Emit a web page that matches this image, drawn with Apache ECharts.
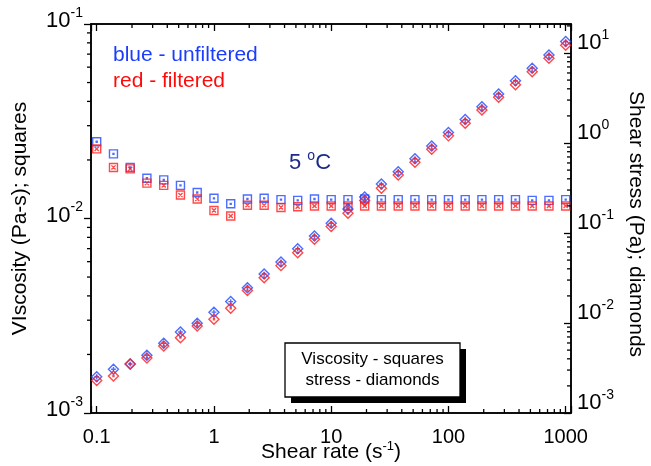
<!DOCTYPE html>
<html>
<head>
<meta charset="utf-8">
<script src="https://cdn.jsdelivr.net/npm/echarts@6/dist/echarts.min.js"></script>
<style>
html,body{margin:0;padding:0;background:#fff}
#chart{width:651px;height:466px}
</style>
</head>
<body>
<div id="chart"></div>
<script>
// shear rate, 7 points per decade
var shearRate = [0.1, 0.139, 0.193, 0.268, 0.373, 0.518, 0.72, 1, 1.39, 1.93, 2.68, 3.73, 5.18, 7.2,
    10, 13.9, 19.3, 26.8, 37.3, 51.8, 72, 100, 139, 193, 268, 373, 518, 720, 1000];
// viscosity (Pa-s) - squares, left axis
var viscBlue = [0.0248, 0.0215, 0.0183, 0.0161, 0.0158, 0.0148, 0.0136, 0.0127, 0.0119, 0.0126, 0.0127, 0.0125,
    0.0124, 0.0126, 0.0125, 0.0125, 0.0126, 0.0125, 0.0125, 0.0125, 0.0125, 0.0125, 0.0125, 0.0125, 0.0125,
    0.0125, 0.0124, 0.0124, 0.0125];
var viscRed = [0.0228, 0.0183, 0.0180, 0.0152, 0.0148, 0.0132, 0.0126, 0.0110, 0.0103, 0.0117, 0.0117, 0.0114,
    0.0115, 0.0116, 0.0116, 0.0116, 0.0116, 0.0116, 0.0116, 0.0116, 0.0116, 0.0116, 0.0116, 0.0116, 0.0116,
    0.0116, 0.0116, 0.0116, 0.0116];
// shear stress (Pa) - diamonds, right axis
var stressBlue = [0.00253, 0.00306, 0.0035, 0.00438, 0.00594, 0.00794, 0.00993, 0.0132, 0.0173, 0.0247, 0.035,
    0.0476, 0.067, 0.0927, 0.128, 0.185, 0.251, 0.35, 0.48, 0.667, 0.927, 1.31, 1.82, 2.53, 3.5, 4.92, 6.76, 9.5, 13.4];
var stressRed = [0.00229, 0.00258, 0.0035, 0.00408, 0.00555, 0.00687, 0.00927, 0.011, 0.0146, 0.0229, 0.0318,
    0.0434, 0.0604, 0.0851, 0.118, 0.166, 0.23, 0.314, 0.44, 0.612, 0.853, 1.2, 1.66, 2.33, 3.22, 4.44, 6.2, 8.73, 12.2];

var xTickLabels = ['0.1', '1', '10', '100', '1000'];
var xRange = [0.0894, 1110];
var yLeftRange = [0.001, 0.1];
var yRightRange = [0.001, 21];

var FONT = '"Liberation Sans", Arial, sans-serif';
var BLUE = '#2048ff';
var RED = '#ff1c1c';

function pairs(xs, ys) {
    return xs.map(function (x, i) { return [x, ys[i]]; });
}
function isPow(v) {
    var e = Math.log10(v);
    return Math.abs(e - Math.round(e)) < 1e-6;
}
function powLabel(v) {
    if (!isPow(v)) return '';
    return '{b|10}{s|' + Math.round(Math.log10(v)) + '}';
}
// minor tick values 2..9 x 10^e inside a range
function minorTicks(range) {
    var out = [];
    for (var e = -4; e <= 3; e++) {
        for (var m = 2; m <= 9; m++) {
            var v = m * Math.pow(10, e);
            if (v > range[0] * 1.01 && v < range[1] * 0.99) out.push(v);
        }
    }
    return out;
}

var supRich = {
    b: {fontSize: 22, fontFamily: FONT, color: '#000', lineHeight: 30},
    s: {fontSize: 14, fontFamily: FONT, color: '#000', lineHeight: 14, verticalAlign: 'top'}
};
var nameRich = {
    n: {fontSize: 21, fontFamily: FONT, color: '#000', lineHeight: 24},
    s: {fontSize: 13, fontFamily: FONT, color: '#000', lineHeight: 13, verticalAlign: 'top'}
};

var sqDot = 'path://M0,0L10,0L10,10L0,10Z M4.4,4.4L5.6,4.4L5.6,5.6L4.4,5.6Z';
var sqX = 'path://M0,0L10,0L10,10L0,10Z M2.4,2.4L7.6,7.6 M7.6,2.4L2.4,7.6';
var diaPlus = 'path://M5,0L10,5L5,10L0,5Z M5,2.6L5,7.4 M2.6,5L7.4,5';
var diaDot = 'path://M5,0L10,5L5,10L0,5Z M4.5,4.5L5.5,4.5L5.5,5.5L4.5,5.5Z';

function markerSeries(name, data, yIndex, symbol, size, color) {
    return {
        name: name, type: 'scatter', data: data, yAxisIndex: yIndex,
        symbol: symbol, symbolSize: size, symbolKeepAspect: true,
        itemStyle: {color: 'rgba(0,0,0,0)', borderColor: color, borderWidth: 1.4},
        emphasis: {disabled: true}, z: 3
    };
}

// minor ticks drawn through the axes' own scales
function tickSeries(values, yIndex, side) {
    return {
        type: 'custom', yAxisIndex: yIndex, silent: true, z: 5,
        data: values.map(function (v) { return side === 'x' ? [v, 0.01] : [1, v]; }),
        renderItem: function (params, api) {
            var cs = params.coordSys;
            var p = api.coord([api.value(0), api.value(1)]);
            var st = {stroke: '#000', lineWidth: 1.3};
            if (side === 'x') {
                var b = cs.y + cs.height;
                return {type: 'group', children: [
                    {type: 'line', shape: {x1: p[0], y1: b, x2: p[0], y2: b - 4}, style: st},
                    {type: 'line', shape: {x1: p[0], y1: cs.y, x2: p[0], y2: cs.y + 4}, style: st}
                ]};
            }
            if (side === 'left') {
                return {type: 'line', shape: {x1: cs.x, y1: p[1], x2: cs.x - 4, y2: p[1]}, style: st};
            }
            var r = cs.x + cs.width;
            return {type: 'line', shape: {x1: r, y1: p[1], x2: r - 4, y2: p[1]}, style: st};
        }
    };
}

var chart = echarts.init(document.getElementById('chart'), null, {renderer: 'canvas'});

var option = {
    animation: false,
    backgroundColor: '#fff',
    grid: {left: 91, right: 80, top: 24, bottom: 53, show: true, borderColor: '#000', borderWidth: 1.5,
        backgroundColor: 'transparent', containLabel: false, outerBoundsMode: 'none'},
    xAxis: [{
        type: 'log', logBase: 10, min: xRange[0], max: xRange[1], position: 'bottom',
        axisLine: {lineStyle: {color: '#000', width: 1.5}},
        axisTick: {inside: true, length: 7, lineStyle: {color: '#000', width: 1.3}},
        axisLabel: {
            margin: 14, color: '#000', fontSize: 20, fontFamily: FONT,
            formatter: function (v) {
                return isPow(v) ? xTickLabels[Math.round(Math.log10(v)) + 1] : '';
            }
        },
        splitLine: {show: false},
        name: '{n|Shear rate (s}{s|-1}{n|)}', nameLocation: 'middle', nameGap: 27, nameMoveOverlap: false,
        nameTextStyle: {rich: nameRich}
    }, {
        type: 'log', logBase: 10, min: xRange[0], max: xRange[1], position: 'top',
        axisLine: {lineStyle: {color: '#000', width: 1.5}},
        axisTick: {inside: true, length: 7, lineStyle: {color: '#000', width: 1.3}},
        axisLabel: {show: false},
        splitLine: {show: false}
    }],
    yAxis: [{
        type: 'log', logBase: 10, min: yLeftRange[0], max: yLeftRange[1], position: 'left',
        axisLine: {lineStyle: {color: '#000', width: 1.5}},
        axisTick: {inside: false, length: 7, lineStyle: {color: '#000', width: 1.3}},
        axisLabel: {margin: 8, formatter: powLabel, rich: supRich, padding: [0, 0, 6, 0]},
        splitLine: {show: false},
        name: 'VIscosity (Pa-s); squares', nameLocation: 'middle', nameGap: 60,
        nameTextStyle: {fontSize: 21, fontFamily: FONT, color: '#000'}
    }, {
        type: 'log', logBase: 10, min: yRightRange[0], max: yRightRange[1], position: 'right',
        axisLine: {lineStyle: {color: '#000', width: 1.5}},
        axisTick: {inside: true, length: 7, lineStyle: {color: '#000', width: 1.3}},
        axisLabel: {margin: 6, formatter: powLabel, rich: supRich, padding: [0, 0, 20, 0]},
        splitLine: {show: false},
        name: 'Shear stress (Pa); diamonds', nameLocation: 'middle', nameGap: 52, nameRotate: -90,
        nameTextStyle: {fontSize: 21, fontFamily: FONT, color: '#000', padding: [0, 0, 0, 11]}
    }],
    series: [
        markerSeries('visc unfiltered', pairs(shearRate, viscBlue), 0, sqDot, 8, BLUE),
        markerSeries('visc filtered', pairs(shearRate, viscRed), 0, sqX, 8, RED),
        markerSeries('stress unfiltered', pairs(shearRate, stressBlue), 1, diaPlus, 10, BLUE),
        markerSeries('stress filtered', pairs(shearRate, stressRed), 1, diaDot, 10, RED),
        tickSeries(minorTicks(xRange), 0, 'x'),
        tickSeries(minorTicks(yLeftRange), 0, 'left'),
        tickSeries(minorTicks(yRightRange), 1, 'right')
    ],
    graphic: [
        {type: 'text', x: 113, y: 45, style: {text: 'blue - unfiltered', fill: '#1a3cff', fontSize: 21, fontFamily: FONT}},
        {type: 'text', x: 113, y: 71, style: {text: 'red - filtered', fill: '#ff0a0a', fontSize: 21, fontFamily: FONT}},
        {type: 'text', x: 289, y: 149, style: {
            text: '{a|5 }{s|o}{a|C}', fill: '#1c2a8a',
            rich: {
                a: {fontSize: 22, fontFamily: FONT, fill: '#1c2a8a', lineHeight: 28},
                s: {fontSize: 14, fontFamily: FONT, fill: '#1c2a8a', lineHeight: 14, verticalAlign: 'top'}
            }
        }},
        {type: 'rect', x: 291, y: 349, shape: {width: 175, height: 54}, style: {fill: '#000'}},
        {type: 'rect', x: 285, y: 343, shape: {width: 175, height: 54}, style: {fill: '#fff', stroke: '#000', lineWidth: 1.3}},
        {type: 'text', x: 372.5, y: 349, style: {
            text: 'Viscosity - squares\nstress - diamonds', fill: '#000', fontSize: 17, fontFamily: FONT,
            align: 'center', lineHeight: 21
        }}
    ]
};
chart.setOption(option);
</script>
</body>
</html>
